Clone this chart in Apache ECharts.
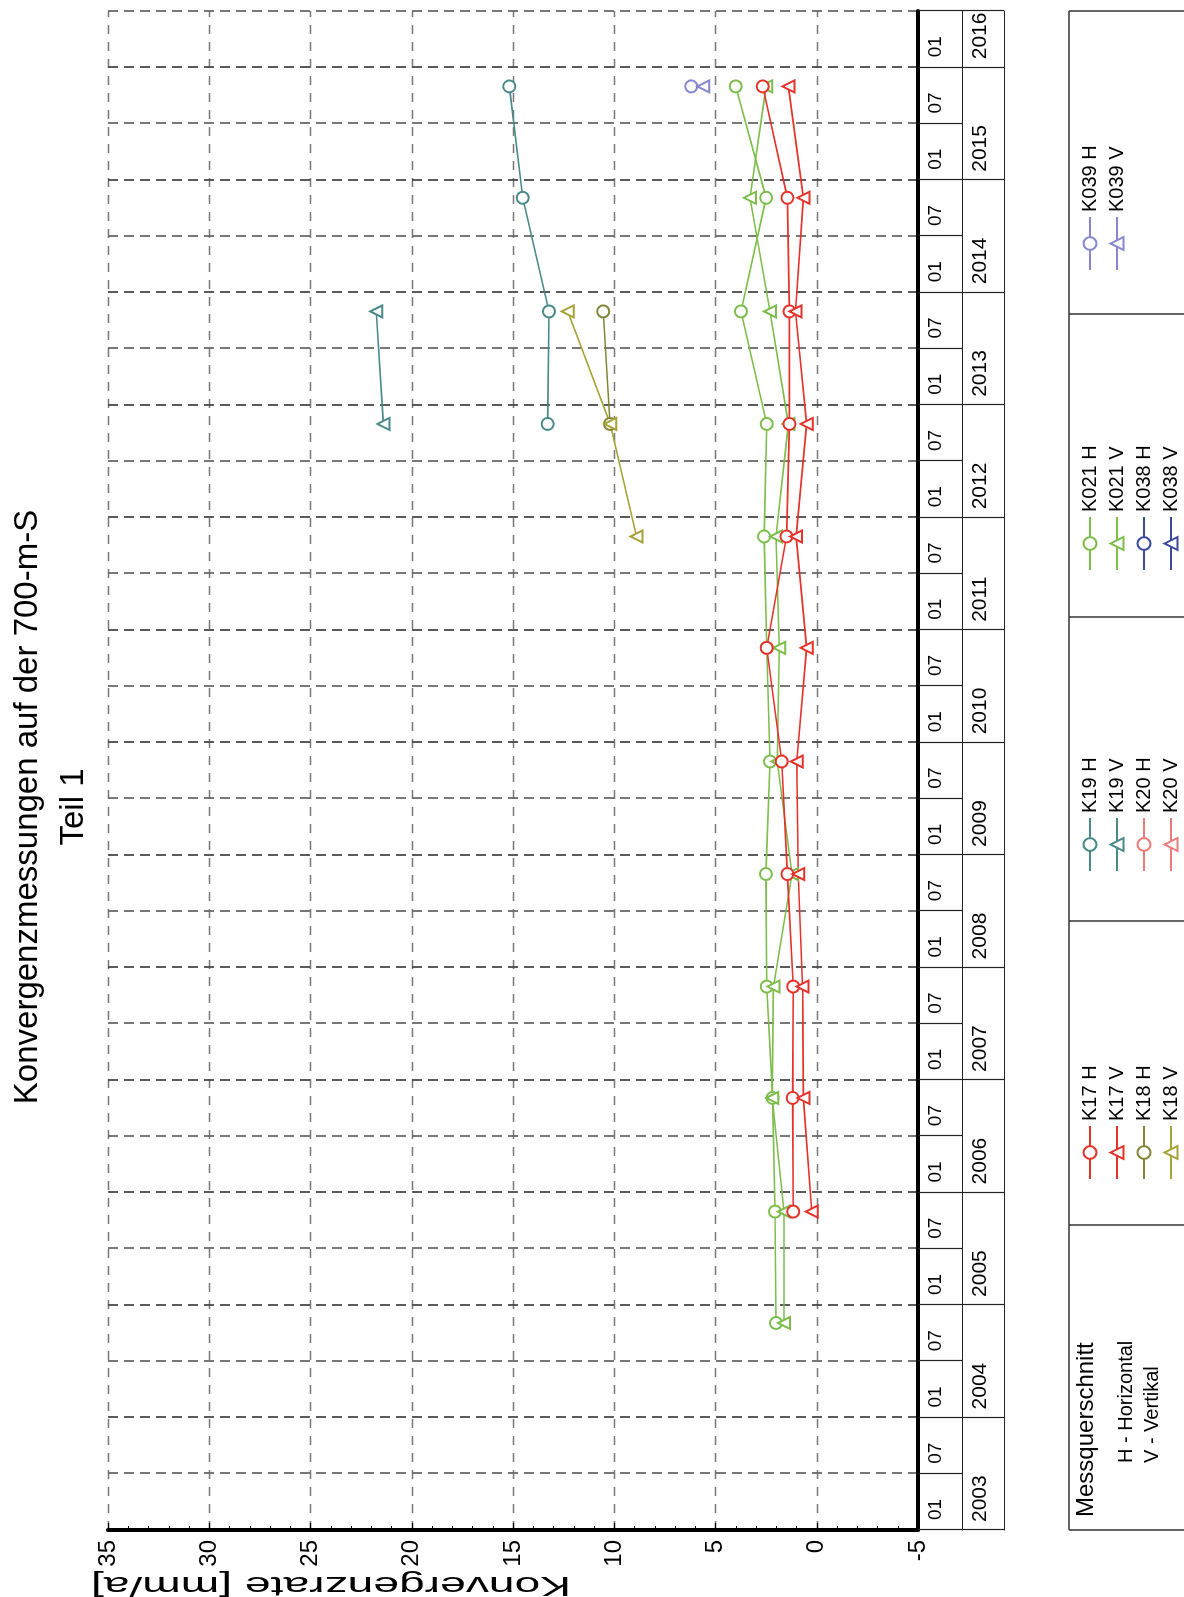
<!DOCTYPE html>
<html>
<head>
<meta charset="utf-8">
<script src="https://cdn.jsdelivr.net/npm/echarts@6/dist/echarts.min.js"></script>
<style>
html,body{margin:0;padding:0;background:#fff;}
body{width:1184px;height:1597px;overflow:hidden;position:relative;}
#c{position:absolute;left:0;top:0;width:1597px;height:1184px;transform-origin:0 0;transform:translateY(1597px) rotate(-90deg);}
</style>
</head>
<body>
<div id="c"></div>
<script>
// ---- data (decimal years of the yearly measurements, convergence rate mm/a) ----
const dates  = [2004.84, 2005.83, 2006.84, 2007.83, 2008.83, 2009.83, 2010.84, 2011.83, 2012.83, 2013.83, 2014.84, 2015.83];
const k17H   = [null, 1.16, 1.19, 1.16, 1.45, 1.73, 2.47, 1.49, 1.35, 1.35, 1.45, 2.67];
const k17V   = [null, 0.25, 0.66, 0.70, 0.91, 0.99, 0.50, 1.02, 0.50, 1.05, 0.66, 1.40];
const k18H   = [null, null, null, null, null, null, null, null, 10.21, 10.54, null, null];
const k18V   = [null, null, null, null, null, null, null, 8.90, 10.20, 12.30, null, null];
const k19H   = [null, null, null, null, null, null, null, null, 13.29, 13.22, 14.52, 15.18];
const k19V   = [null, null, null, null, null, null, null, null, 21.40, 21.75, null, null];
const k20H   = [null, null, null, null, null, null, null, null, null, null, null, null];
const k20V   = [null, null, null, null, null, null, null, null, null, null, null, null];
const k021H  = [2.01, 2.06, 2.18, 2.47, 2.51, 2.31, 2.47, 2.60, 2.47, 3.74, 2.50, 4.00];
const k021V  = [1.62, 1.62, 2.20, 2.14, 1.22, 1.95, 1.85, 2.01, 1.40, 2.31, 3.30, 2.50];
const k038H  = [null, null, null, null, null, null, null, null, null, null, null, null];
const k038V  = [null, null, null, null, null, null, null, null, null, null, null, null];
const k039H  = [null, null, null, null, null, null, null, null, null, null, null, 6.20];
const k039V  = [null, null, null, null, null, null, null, null, null, null, null, 5.60];

const monthLabels = ['01', '07'];
const yTicks = { min: -5, max: 35, interval: 5 };
const timeRange = { min: 2003, max: 2016.5 };

const FONT = 'Liberation Sans, Arial, sans-serif';

function mk(name, vals, sym, color) {
  return {
    name: name, type: 'line', symbol: sym, symbolSize: 12,
    data: dates.map((d, i) => [d, vals[i]]),
    lineStyle: { color: color, width: 1.6 },
    itemStyle: { color: color, borderWidth: 1.6 },
    emphasis: { disabled: true },
    animation: false
  };
}

const series = [
  mk('K021 H', k021H, 'emptyCircle', '#7dbd4b'),
  mk('K021 V', k021V, 'emptyTriangle', '#7dbd4b'),
  mk('K038 H', k038H, 'emptyCircle', '#3d4a9c'),
  mk('K038 V', k038V, 'emptyTriangle', '#3d4a9c'),
  mk('K039 H', k039H, 'emptyCircle', '#8787cf'),
  mk('K039 V', k039V, 'emptyTriangle', '#8787cf'),
  mk('K19 H', k19H, 'emptyCircle', '#4a8989'),
  mk('K19 V', k19V, 'emptyTriangle', '#4a8989'),
  mk('K18 H', k18H, 'emptyCircle', '#85853a'),
  mk('K18 V', k18V, 'emptyTriangle', '#a6a236'),
  mk('K20 H', k20H, 'emptyCircle', '#ee7b7b'),
  mk('K20 V', k20V, 'emptyTriangle', '#ee7b7b'),
  mk('K17 H', k17H, 'emptyCircle', '#e5322b'),
  mk('K17 V', k17V, 'emptyTriangle', '#e5322b')
];

const legendBase = {
  orient: 'vertical', itemWidth: 53, itemHeight: 16, itemGap: 7, padding: 0,
  selectedMode: false, top: 1080, height: 300,
  textStyle: { fontSize: 20, color: '#000', fontFamily: FONT }
};
const legends = [
  Object.assign({}, legendBase, { left: 417, data: ['K17 H', 'K17 V', 'K18 H', 'K18 V'] }),
  Object.assign({}, legendBase, { left: 725, data: ['K19 H', 'K19 V', 'K20 H', 'K20 V'] }),
  Object.assign({}, legendBase, { left: 1026, data: ['K021 H', 'K021 V', 'K038 H', 'K038 V'] }),
  Object.assign({}, legendBase, { left: 1326, data: ['K039 H', 'K039 V'] })
];

const boxLines = [67, 372, 676, 980, 1283, 1586].map(u => ({
  type: 'line', shape: { x1: u, y1: 1069, x2: u, y2: 1184 },
  style: { stroke: '#333', lineWidth: 1.5 }, silent: true
}));
boxLines.push({ type: 'line', shape: { x1: 67, y1: 1069, x2: 1586, y2: 1069 },
  style: { stroke: '#333', lineWidth: 1.5 }, silent: true });

const option = {
  animation: false,
  backgroundColor: '#fff',
  textStyle: { fontFamily: FONT },
  title: {
    text: 'Konvergenzmessungen auf der 700-m-S\nTeil 1',
    left: 785, top: 0, textAlign: 'center',
    textStyle: { fontSize: 33, fontWeight: 'normal', color: '#000', lineHeight: 46, fontFamily: FONT }
  },
  grid: { left: 67, top: 108, width: 1519, height: 810, containLabel: false },
  legend: legends,
  xAxis: [
    { // main time axis with grid lines
      type: 'value', position: 'bottom', min: timeRange.min, max: timeRange.max, interval: 0.5,
      axisLine: { show: true, onZero: false, lineStyle: { color: '#000', width: 4 } },
      axisTick: { show: false }, axisLabel: { show: false },
      splitLine: { show: true, lineStyle: { type: [10, 6], color: ['#4a4a4a', '#6a6a6a'], width: 1.8 } }
    },
    { // month row
      type: 'value', position: 'bottom', min: timeRange.min, max: timeRange.max, interval: 0.5, offset: 0,
      axisLine: { show: false, onZero: false },
      axisTick: { show: true, length: 44, lineStyle: { color: '#222', width: 1.2 } },
      axisLabel: { show: true, align: 'left', margin: 8, padding: [0, 0, 0, 10], fontSize: 19, color: '#000',
        formatter: v => (v >= timeRange.max ? '' : monthLabels[Math.round((v % 1) * 2)]) },
      splitLine: { show: false }
    },
    { // year row
      type: 'value', position: 'bottom', min: timeRange.min, max: timeRange.max, interval: 1, offset: 44,
      axisLine: { show: true, onZero: false, lineStyle: { color: '#222', width: 1.2 } },
      axisTick: { show: true, length: 42, lineStyle: { color: '#222', width: 1.2 } },
      axisLabel: { show: true, align: 'left', margin: 8, padding: [0, 0, 0, 8], fontSize: 21, color: '#000',
        formatter: v => (Math.abs(v - Math.round(v)) > 1e-6 ? '' : String(Math.round(v))) },
      splitLine: { show: false }
    },
    { // bottom border of the table
      type: 'value', position: 'bottom', min: timeRange.min, max: timeRange.max, interval: 0.5, offset: 86,
      axisLine: { show: true, onZero: false, lineStyle: { color: '#222', width: 1.2 } },
      axisTick: { show: false }, axisLabel: { show: false }, splitLine: { show: false }
    }
  ],
  yAxis: {
    type: 'value', min: yTicks.min, max: yTicks.max, interval: yTicks.interval,
    axisLine: { show: true, onZero: false, lineStyle: { color: '#000', width: 4 } },
    axisTick: { show: true, inside: true, length: 7, lineStyle: { color: '#000', width: 1.2 } },
    minorTick: { show: true, splitNumber: 5, length: 4, lineStyle: { color: '#000', width: 1 } },
    axisLabel: { fontSize: 24, color: '#000', margin: 10 },
    splitLine: { show: true, lineStyle: { type: [9, 8], color: '#777', width: 1.3 } }
  },
  graphic: boxLines.concat([
    { type: 'text', x: 12, y: 331, rotation: Math.PI / 2, scaleX: 1.65, scaleY: 1, silent: true,
      style: { text: 'Konvergenzrate [mm/a]', fontSize: 28, fontFamily: FONT, fill: '#000', align: 'center', verticalAlign: 'middle' } },
    { type: 'text', x: 80, y: 1086, silent: true,
      style: { text: 'Messquerschnitt', fontSize: 24, fontFamily: FONT, fill: '#000', align: 'left', verticalAlign: 'middle' } },
    { type: 'text', x: 134, y: 1126, silent: true,
      style: { text: 'H - Horizontal', fontSize: 20, fontFamily: FONT, fill: '#000', align: 'left', verticalAlign: 'middle' } },
    { type: 'text', x: 134, y: 1152, silent: true,
      style: { text: 'V - Vertikal', fontSize: 20, fontFamily: FONT, fill: '#000', align: 'left', verticalAlign: 'middle' } }
  ]),
  series: series
};

const chart = echarts.init(document.getElementById('c'), null, { renderer: 'canvas' });
chart.setOption(option);
</script>
</body>
</html>
